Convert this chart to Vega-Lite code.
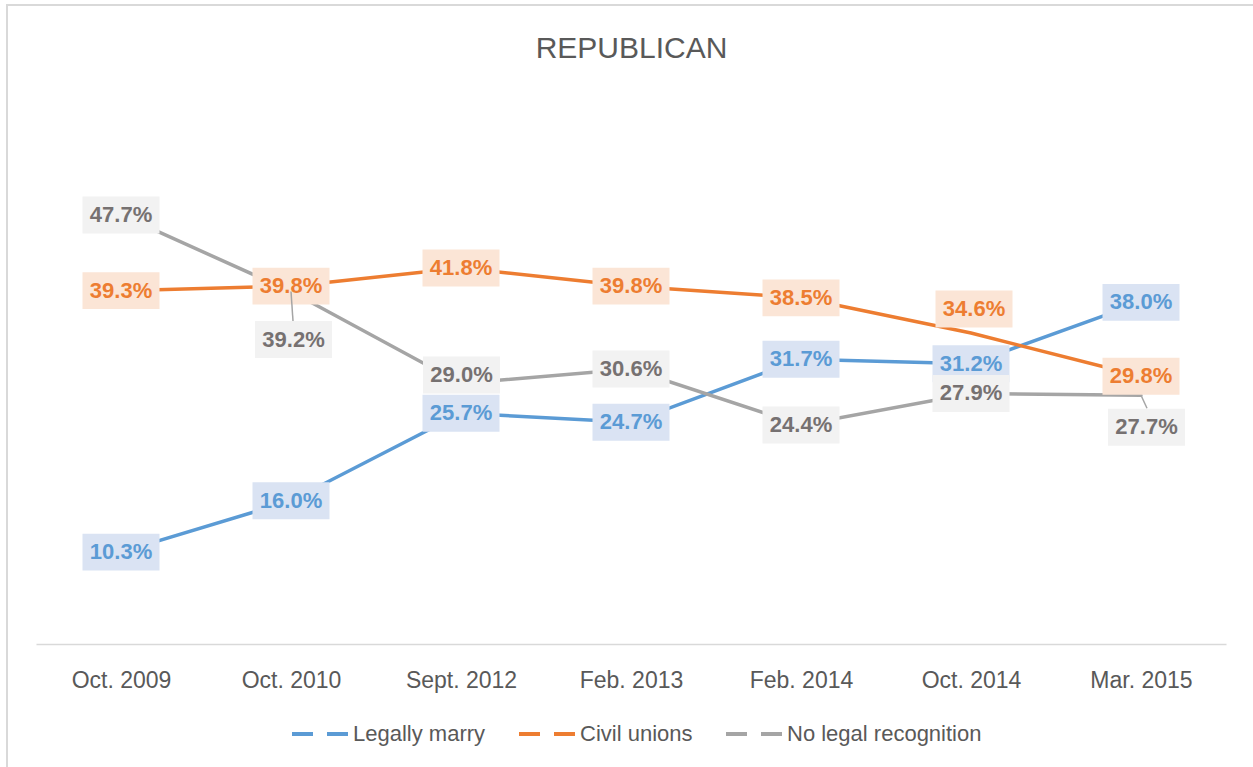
{
  "$schema": "https://vega.github.io/schema/vega-lite/v6.json",
  "width": 1260,
  "height": 800,
  "autosize": {"type": "none"},
  "padding": {"left": 7, "top": 5, "right": 0, "bottom": 0},
  "background": "white",
  "config": {"view": {"stroke": "#d9d9d9", "strokeWidth": 2}},
  "title": {"text": "REPUBLICAN", "font": "Liberation Sans", "fontSize": 30, "fontWeight": "normal", "color": "#595959", "anchor": "middle", "frame": "group", "offset": -59, "dx": -5.5, "baseline": "top"},
  "data": {"values": [
    {"date": "Oct. 2009", "series": "Legally marry", "value": 0.103},
    {"date": "Oct. 2010", "series": "Legally marry", "value": 0.160},
    {"date": "Sept. 2012", "series": "Legally marry", "value": 0.257},
    {"date": "Feb. 2013", "series": "Legally marry", "value": 0.247},
    {"date": "Feb. 2014", "series": "Legally marry", "value": 0.317},
    {"date": "Oct. 2014", "series": "Legally marry", "value": 0.312},
    {"date": "Mar. 2015", "series": "Legally marry", "value": 0.380},
    {"date": "Oct. 2009", "series": "Civil unions", "value": 0.393},
    {"date": "Oct. 2010", "series": "Civil unions", "value": 0.398},
    {"date": "Sept. 2012", "series": "Civil unions", "value": 0.418},
    {"date": "Feb. 2013", "series": "Civil unions", "value": 0.398},
    {"date": "Feb. 2014", "series": "Civil unions", "value": 0.385},
    {"date": "Oct. 2014", "series": "Civil unions", "value": 0.346},
    {"date": "Mar. 2015", "series": "Civil unions", "value": 0.298},
    {"date": "Oct. 2009", "series": "No legal recognition", "value": 0.477},
    {"date": "Oct. 2010", "series": "No legal recognition", "value": 0.392},
    {"date": "Sept. 2012", "series": "No legal recognition", "value": 0.290},
    {"date": "Feb. 2013", "series": "No legal recognition", "value": 0.306},
    {"date": "Feb. 2014", "series": "No legal recognition", "value": 0.244},
    {"date": "Oct. 2014", "series": "No legal recognition", "value": 0.279},
    {"date": "Mar. 2015", "series": "No legal recognition", "value": 0.277}
  ]},
  "encoding": {
    "x": {"field": "date", "type": "ordinal", "sort": ["Oct. 2009", "Oct. 2010", "Sept. 2012", "Feb. 2013", "Feb. 2014", "Oct. 2014", "Mar. 2015"],
      "scale": {"type": "point", "range": [29, 1219], "padding": 0.5},
      "axis": {"title": null, "orient": "bottom", "offset": -161, "labelAngle": 0, "ticks": false, "grid": false, "domainColor": "#d9d9d9", "domainWidth": 1.5, "labelFont": "Liberation Sans", "labelFontSize": 23, "labelColor": "#595959", "labelPadding": 25}},
    "y": {"field": "value", "type": "quantitative", "scale": {"domain": [0, 0.6], "range": [640, 99], "nice": false, "zero": true}, "axis": null}
  },
  "layer": [
    {
      "mark": {"type": "line", "strokeWidth": 3.5, "strokeCap": "round"},
      "encoding": {
        "color": {"field": "series", "type": "nominal", "sort": ["Legally marry", "Civil unions", "No legal recognition"],
          "scale": {"domain": ["Legally marry", "Civil unions", "No legal recognition"], "range": ["#5b9bd5", "#ed7d31", "#a5a5a5"]},
          "legend": {"title": null, "orient": "none", "legendX": 283, "legendY": 699, "direction": "horizontal", "symbolType": "stroke", "symbolSize": 3136, "symbolStrokeWidth": 4, "symbolDash": [21, 14], "labelFont": "Liberation Sans", "labelFontSize": 22, "labelColor": "#595959", "labelOffset": 3, "labelLimit": 0, "columnPadding": 25, "padding": 0}}
      }
    },
    {
      "transform": [{"filter": "!(datum.series == 'No legal recognition' && (datum.date == 'Oct. 2010' || datum.date == 'Sept. 2012' || datum.date == 'Mar. 2015')) && !(datum.series == 'Civil unions' && datum.date == 'Oct. 2014')"}],
      "mark": {"type": "point", "shape": "M-1,-0.48L1,-0.48L1,0.48L-1,0.48Z", "size": 5929, "filled": true, "opacity": 1, "strokeWidth": 0},
      "encoding": {
        "color": {"field": "series", "type": "nominal", "scale": {"domain": ["Legally marry", "Civil unions", "No legal recognition"], "range": ["#dae3f3", "#fbe5d6", "#f2f2f2"]}, "legend": null}
      }
    },
    {
      "transform": [{"filter": "!(datum.series == 'No legal recognition' && (datum.date == 'Oct. 2010' || datum.date == 'Sept. 2012' || datum.date == 'Mar. 2015')) && !(datum.series == 'Civil unions' && datum.date == 'Oct. 2014')"}],
      "mark": {"type": "text", "font": "Liberation Sans Narrow, Liberation Sans", "fontSize": 22, "fontWeight": "bold", "align": "center", "baseline": "middle"},
      "encoding": {
        "text": {"field": "value", "type": "quantitative", "format": ".1%"},
        "color": {"field": "series", "type": "nominal", "scale": {"domain": ["Legally marry", "Civil unions", "No legal recognition"], "range": ["#5b9bd5", "#ed7d31", "#767171"]}, "legend": null}
      }
    },
    {
      "transform": [{"filter": "datum.series == 'No legal recognition' && datum.date == 'Oct. 2010'"}],
      "layer": [
        {"mark": {"type": "point", "shape": "M-1,-0.48L1,-0.48L1,0.48L-1,0.48Z", "size": 5929, "filled": true, "opacity": 1, "strokeWidth": 0, "color": "#f2f2f2", "xOffset": 2.5, "yOffset": 48}},
        {"mark": {"type": "rule", "color": "#a5a5a5", "strokeWidth": 1.5, "x2Offset": 2, "y2Offset": 29.5}, "encoding": {"x2": {"field": "date"}, "y2": {"field": "value"}}},
        {"mark": {"type": "text", "font": "Liberation Sans Narrow, Liberation Sans", "fontSize": 22, "fontWeight": "bold", "align": "center", "baseline": "middle", "color": "#767171", "xOffset": 2.5, "yOffset": 48}, "encoding": {"text": {"field": "value", "type": "quantitative", "format": ".1%"}}}
      ]
    },
    {
      "transform": [{"filter": "datum.series == 'No legal recognition' && datum.date == 'Sept. 2012'"}],
      "layer": [
        {"mark": {"type": "point", "shape": "M-1,-0.48L1,-0.48L1,0.48L-1,0.48Z", "size": 5929, "filled": true, "opacity": 1, "strokeWidth": 0, "color": "#f2f2f2", "xOffset": 0.5, "yOffset": -8.5}},
        {"mark": {"type": "text", "font": "Liberation Sans Narrow, Liberation Sans", "fontSize": 22, "fontWeight": "bold", "align": "center", "baseline": "middle", "color": "#767171", "xOffset": 0.5, "yOffset": -8.5}, "encoding": {"text": {"field": "value", "type": "quantitative", "format": ".1%"}}}
      ]
    },
    {
      "transform": [{"filter": "datum.series == 'No legal recognition' && datum.date == 'Mar. 2015'"}],
      "layer": [
        {"mark": {"type": "point", "shape": "M-1,-0.48L1,-0.48L1,0.48L-1,0.48Z", "size": 5929, "filled": true, "opacity": 1, "strokeWidth": 0, "color": "#f2f2f2", "xOffset": 5.5, "yOffset": 32}},
        {"mark": {"type": "rule", "color": "#a5a5a5", "strokeWidth": 1.5, "x2Offset": 6, "y2Offset": 13}, "encoding": {"x2": {"field": "date"}, "y2": {"field": "value"}}},
        {"mark": {"type": "text", "font": "Liberation Sans Narrow, Liberation Sans", "fontSize": 22, "fontWeight": "bold", "align": "center", "baseline": "middle", "color": "#767171", "xOffset": 5.5, "yOffset": 32}, "encoding": {"text": {"field": "value", "type": "quantitative", "format": ".1%"}}}
      ]
    },
    {
      "transform": [{"filter": "datum.series == 'Civil unions' && datum.date == 'Oct. 2014'"}],
      "layer": [
        {"mark": {"type": "point", "shape": "M-1,-0.48L1,-0.48L1,0.48L-1,0.48Z", "size": 5929, "filled": true, "opacity": 1, "strokeWidth": 0, "color": "#fbe5d6", "xOffset": 3, "yOffset": -24}},
        {"mark": {"type": "text", "font": "Liberation Sans Narrow, Liberation Sans", "fontSize": 22, "fontWeight": "bold", "align": "center", "baseline": "middle", "color": "#ed7d31", "xOffset": 3, "yOffset": -24}, "encoding": {"text": {"field": "value", "type": "quantitative", "format": ".1%"}}}
      ]
    }
  ],
  "resolve": {"scale": {"color": "independent"}}
}
